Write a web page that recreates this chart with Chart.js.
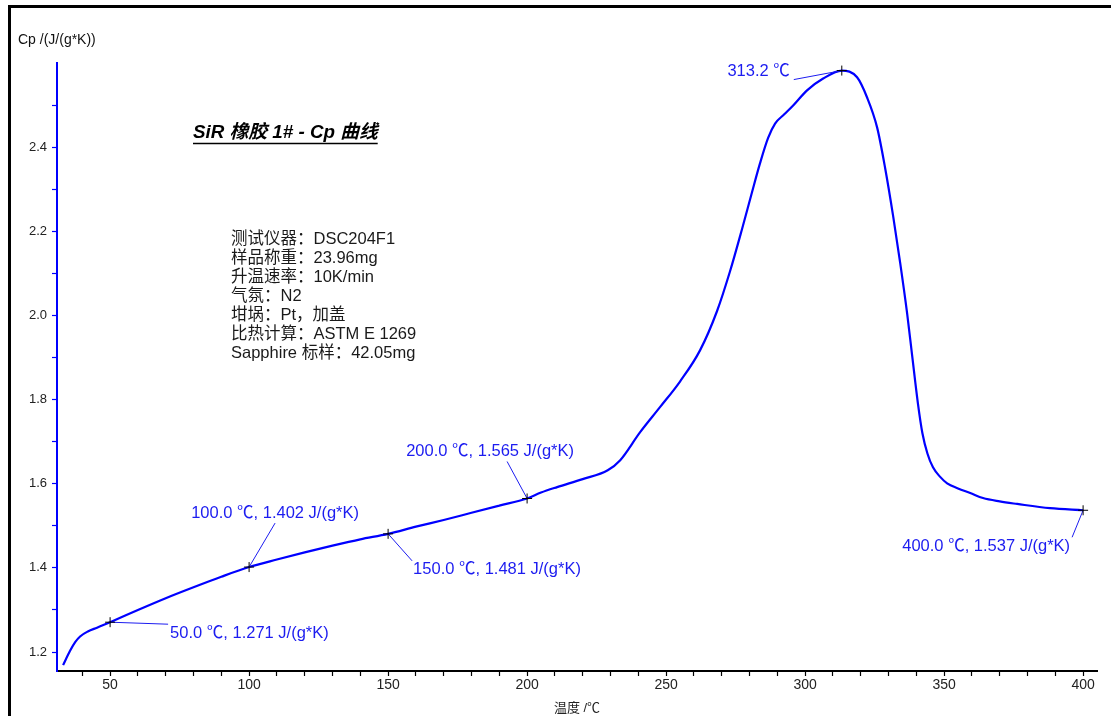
<!DOCTYPE html>
<html>
<head>
<meta charset="utf-8">
<script src="https://cdn.jsdelivr.net/npm/chart.js@4/dist/chart.umd.min.js"></script>
<style>
  body { margin: 0; background: #fff; }
  #wrap { width: 1111px; height: 716px; }
</style>
</head>
<body>
<div id="wrap"><canvas id="cpChart" width="1111" height="716"></canvas></div>
<script>
// temperature (°C) and Cp values
const tempC = [33.1, 35.6, 37.5, 39.2, 42, 45.3, 50, 60, 70, 80, 90, 100, 110, 120, 130, 140, 150, 160, 170, 180,
    190, 200, 205, 210.8, 220, 229, 233.5, 240.6, 247.8, 255, 262.2, 268.3, 273, 277.3, 280.9, 283.8, 286.7,
    289.2, 292.5, 295.7, 300.7, 306.5, 313.2, 318.7, 322.3, 325.9, 328.8, 331.7, 334.2, 336.7, 338.5, 340.6,
    342.2, 344, 346, 348.5, 351.1, 355, 359.4, 364, 370, 376.3, 388.1, 400];
const cpVals = [1.169, 1.203, 1.224, 1.237, 1.249, 1.258, 1.271, 1.300, 1.328, 1.354, 1.379, 1.402, 1.420, 1.437,
    1.453, 1.468, 1.481, 1.498, 1.514, 1.531, 1.548, 1.565, 1.579, 1.592, 1.611, 1.632, 1.656, 1.722, 1.782,
    1.843, 1.917, 2.010, 2.105, 2.205, 2.293, 2.362, 2.422, 2.456, 2.478, 2.499, 2.535, 2.563, 2.582, 2.566,
    2.518, 2.447, 2.350, 2.235, 2.125, 2.005, 1.905, 1.790, 1.720, 1.672, 1.639, 1.617, 1.601, 1.589, 1.578,
    1.566, 1.558, 1.552, 1.542, 1.537];

// marked points
const markT = [50, 100, 150, 200, 313.2, 400];
const markCp = [1.271, 1.402, 1.481, 1.565, 2.582, 1.537];
const markText = ['50.0 ℃, 1.271 J/(g*K)', '100.0 ℃, 1.402 J/(g*K)', '150.0 ℃, 1.481 J/(g*K)',
    '200.0 ℃, 1.565 J/(g*K)', '313.2 ℃', '400.0 ℃, 1.537 J/(g*K)'];

// ticks
const xTicks = [40, 50, 60, 70, 80, 90, 100, 110, 120, 130, 140, 150, 160, 170, 180, 190, 200, 210, 220, 230,
    240, 250, 260, 270, 280, 290, 300, 310, 320, 330, 340, 350, 360, 370, 380, 390, 400];
const xLabels = [50, 100, 150, 200, 250, 300, 350, 400];
const yTicks = [1.2, 1.3, 1.4, 1.5, 1.6, 1.7, 1.8, 1.9, 2.0, 2.1, 2.2, 2.3, 2.4, 2.5];
const yLabels = ['1.2', '1.4', '1.6', '1.8', '2.0', '2.2', '2.4'];

const chartTitle = 'SiR 橡胶 1# - Cp 曲线';
const infoLines = ['测试仪器：DSC204F1', '样品称重：23.96mg', '升温速率：10K/min', '气氛：N2',
    '坩埚：Pt，加盖', '比热计算：ASTM E 1269', 'Sapphire 标样：42.05mg'];
const yTitle = 'Cp /(J/(g*K))';
const xTitle = '温度 /℃';

const FONT = '"Liberation Sans", Arial, "Noto Sans CJK SC", sans-serif';
const BLUE = '#0000ff';
const LABEL_BLUE = '#1c1cf0';

// where each label sits relative to its point [dx, dy, align, leader to dx, leader to dy]
const labelPos = [
    [60, 11, 'left', 58, 2],
    [26, -54, 'center', 26, -44],
    [25, 36, 'left', 24, 27],
    [-37, -47, 'center', -20, -37],
    [-52, 1, 'right', -48, 9],
    [-13, 36, 'right', -11, 27]
];

const overlay = {
    id: 'overlay',
    afterDraw(chart) {
        const ctx = chart.ctx;
        const xs = chart.scales.x, ys = chart.scales.y;
        ctx.save();

        // outer frame (top + left)
        ctx.strokeStyle = '#000';
        ctx.lineWidth = 3;
        ctx.beginPath();
        ctx.moveTo(9.5, 716);
        ctx.lineTo(9.5, 6.5);
        ctx.lineTo(1111, 6.5);
        ctx.stroke();

        // y title
        ctx.fillStyle = '#111';
        ctx.font = '14px ' + FONT;
        ctx.textBaseline = 'middle';
        ctx.textAlign = 'left';
        ctx.fillText(yTitle, 18, 40);

        // chart title, bold italic underlined
        ctx.font = 'italic bold 18.8px ' + FONT;
        ctx.fillStyle = '#000';
        ctx.fillText(chartTitle, 193, 133);
        const tw = ctx.measureText(chartTitle).width;
        ctx.lineWidth = 1.4;
        ctx.beginPath();
        ctx.moveTo(193, 143.5);
        ctx.lineTo(193 + tw, 143.5);
        ctx.stroke();

        // instrument info
        ctx.font = '16.5px ' + FONT;
        ctx.fillStyle = '#1a1a1a';
        infoLines.forEach((t, i) => ctx.fillText(t, 231, 239 + i * 19));

        // marked points
        ctx.font = '16.5px ' + FONT;
        markT.forEach((t, i) => {
            const px = xs.getPixelForValue(t), py = ys.getPixelForValue(markCp[i]);
            const [dx, dy, align, lx, ly] = labelPos[i];
            ctx.strokeStyle = LABEL_BLUE;
            ctx.lineWidth = 1;
            ctx.beginPath();
            ctx.moveTo(px, py);
            ctx.lineTo(px + lx, py + ly);
            ctx.stroke();

            ctx.strokeStyle = '#000';
            ctx.beginPath();
            ctx.moveTo(px - 5, py); ctx.lineTo(px + 5, py);
            ctx.moveTo(px, py - 5); ctx.lineTo(px, py + 5);
            ctx.stroke();

            ctx.fillStyle = LABEL_BLUE;
            ctx.textAlign = align;
            ctx.fillText(markText[i], px + dx, py + dy);
        });
        ctx.restore();
    }
};

new Chart(document.getElementById('cpChart'), {
    type: 'line',
    data: {
        labels: tempC,
        datasets: [{
            data: tempC.map((t, i) => ({ x: t, y: cpVals[i] })),
            borderColor: BLUE,
            borderWidth: 2.2,
            pointRadius: 0,
            cubicInterpolationMode: 'monotone',
            fill: false
        }]
    },
    options: {
        responsive: false,
        animation: false,
        layout: { padding: { top: 63, right: 14, left: 0, bottom: 0 } },
        plugins: { legend: { display: false }, tooltip: { enabled: false } },
        scales: {
            x: {
                type: 'linear',
                min: 30.9,
                max: 405,
                afterBuildTicks: s => { s.ticks = xTicks.map(v => ({ value: v })); },
                afterFit: s => { s.height = 45; },
                border: { color: '#000', width: 2 },
                grid: { drawOnChartArea: false, tickLength: 5, tickColor: '#000', tickWidth: 1.2 },
                ticks: {
                    color: '#222',
                    font: { family: FONT, size: 14 },
                    padding: 1,
                    maxRotation: 0,
                    autoSkip: false,
                    callback: v => xLabels.includes(v) ? String(v) : ''
                },
                title: {
                    display: true,
                    text: xTitle,
                    color: '#222',
                    font: { family: FONT, size: 13 },
                    padding: { top: 0, bottom: 0 }
                }
            },
            y: {
                type: 'linear',
                min: 1.155,
                max: 2.6,
                afterBuildTicks: s => { s.ticks = yTicks.map(v => ({ value: v })); },
                afterFit: s => { s.width = 57; },
                border: { color: BLUE, width: 2 },
                grid: { drawOnChartArea: false, tickLength: 5, tickColor: BLUE, tickWidth: 1.2 },
                ticks: {
                    color: '#222',
                    font: { family: FONT, size: 13 },
                    padding: 5,
                    autoSkip: false,
                    callback: v => {
                        const s = v.toFixed(1);
                        return yLabels.includes(s) ? s : '';
                    }
                }
            }
        }
    },
    plugins: [overlay]
});
</script>
</body>
</html>
